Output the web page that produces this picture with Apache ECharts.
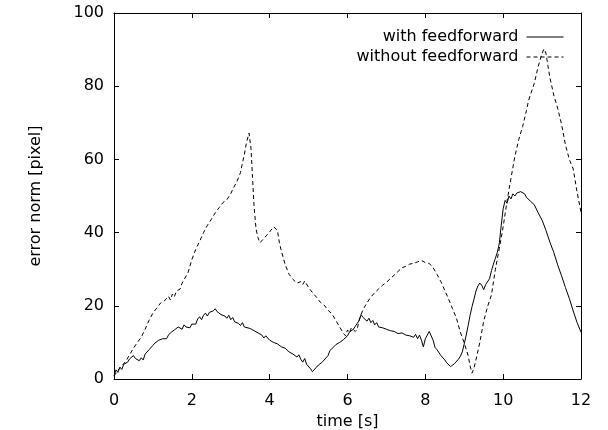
<!DOCTYPE html>
<html><head><meta charset="utf-8">
<script src="https://cdn.jsdelivr.net/npm/echarts@6/dist/echarts.min.js"></script>
<style>html,body{margin:0;padding:0;background:#fff}#c{width:608px;height:430px}</style>
</head><body><div id="c"></div>
<script>
// time [s], error norm [pixel]
const withFF = [
[0.00,0.8],[0.05,2.5],[0.10,1.8],[0.15,3.2],[0.20,2.6],[0.25,4.0],[0.30,3.5],[0.35,4.6],[0.40,5.5],[0.45,5.0],
[0.50,6.4],[0.55,5.6],[0.60,6.0],[0.65,5.0],[0.70,5.8],[0.75,5.2],[0.80,6.8],[0.85,7.1],[0.90,8.0],[0.95,8.4],
[1.00,9.2],[1.05,9.8],[1.10,10.2],[1.15,10.6],[1.20,10.2],[1.25,11.0],[1.30,11.4],[1.35,11.0],[1.40,12.0],[1.45,12.6],
[1.50,12.8],[1.55,13.4],[1.60,13.0],[1.65,14.2],[1.70,14.6],[1.75,13.6],[1.80,14.8],[1.85,14.2],[1.90,14.6],[1.95,14.0],
[2.00,15.0],[2.05,15.4],[2.10,15.0],[2.15,16.4],[2.20,17.0],[2.25,16.2],[2.30,17.4],[2.35,18.0],[2.40,17.2],[2.45,18.2],
[2.50,17.8],[2.55,18.6],[2.60,19.2],[2.65,18.4],[2.70,18.8],[2.75,17.6],[2.80,18.0],[2.85,17.2],[2.90,16.6],[2.95,17.4],
[3.00,16.2],[3.05,16.8],[3.10,15.6],[3.15,16.0],[3.20,15.2],[3.25,14.6],[3.30,15.4],[3.35,14.2],[3.40,14.6],[3.50,13.8],
[3.60,13.2],[3.70,12.6],[3.75,13.0],[3.80,12.0],[3.85,11.2],[3.90,11.8],[4.00,10.6],[4.10,10.0],[4.20,9.6],[4.25,9.8],
[4.30,8.8],[4.40,8.4],[4.50,7.4],[4.60,6.8],[4.70,6.0],[4.75,6.6],[4.80,5.4],[4.85,4.6],[4.90,5.6],[4.95,4.0],
[5.00,3.6],[5.05,2.8],[5.10,2.0],[5.15,2.4],[5.20,3.2],[5.25,3.8],[5.30,3.4],[5.35,4.6],[5.40,5.0],[5.45,5.8],
[5.50,6.4],[5.55,7.8],[5.60,8.2],[5.65,8.8],[5.70,9.4],[5.75,9.8],[5.80,10.0],[5.85,10.4],[5.90,10.8],[5.95,11.0],
[6.00,11.8],[6.05,12.8],[6.10,12.4],[6.15,13.6],[6.20,14.4],[6.25,15.2],[6.30,16.0],[6.35,17.6],[6.40,16.8],[6.45,17.2],
[6.50,15.8],[6.55,16.6],[6.60,15.4],[6.65,16.0],[6.70,14.8],[6.75,15.4],[6.80,14.2],[6.90,14.0],[7.00,13.6],[7.10,13.2],
[7.20,13.0],[7.30,12.4],[7.40,12.6],[7.50,12.0],[7.60,11.8],[7.70,11.4],[7.75,12.2],[7.80,11.0],[7.85,12.0],[7.90,10.6],
[7.95,8.8],[8.00,11.0],[8.05,12.0],[8.10,13.0],[8.15,12.6],[8.20,10.6],[8.25,8.6],[8.30,8.0],[8.40,6.4],[8.50,5.2],
[8.55,4.4],[8.60,4.0],[8.65,3.4],[8.70,3.6],[8.75,4.2],[8.80,4.4],[8.85,5.4],[8.90,6.2],[8.95,7.4],[9.00,9.6],
[9.05,12.0],[9.10,14.6],[9.15,17.4],[9.20,19.8],[9.25,21.8],[9.30,24.0],[9.35,25.4],[9.40,26.2],[9.45,25.6],[9.50,24.4],
[9.55,25.8],[9.60,26.2],[9.65,27.4],[9.70,29.6],[9.75,31.4],[9.80,33.0],[9.85,34.6],[9.90,37.0],[9.95,42.0],[10.00,46.5],
[10.05,48.8],[10.10,48.0],[10.15,50.0],[10.20,49.2],[10.25,50.6],[10.30,50.0],[10.35,50.8],[10.40,50.4],[10.45,51.2],[10.50,51.4],
[10.55,50.6],[10.60,49.6],[10.65,50.0],[10.70,48.6],[10.80,47.6],[10.90,45.4],[11.00,43.4],[11.10,40.6],[11.20,37.4],[11.30,34.6],
[11.40,31.2],[11.50,28.2],[11.60,25.0],[11.70,22.0],[11.80,18.6],[11.90,15.4],[12.00,12.8]
];
const withoutFF = [
[0.00,0.8],[0.10,2.4],[0.20,3.6],[0.30,4.8],[0.40,6.6],[0.50,8.4],[0.60,10.0],[0.70,11.4],[0.80,13.6],[0.90,16.0],
[1.00,18.0],[1.10,19.4],[1.20,20.8],[1.30,21.4],[1.40,22.6],[1.45,21.6],[1.50,23.2],[1.55,22.4],[1.60,24.0],[1.70,24.6],
[1.75,26.2],[1.80,26.6],[1.90,29.0],[2.00,32.6],[2.10,35.4],[2.20,37.6],[2.30,40.0],[2.40,42.0],[2.50,43.6],[2.60,45.4],
[2.70,46.8],[2.80,48.2],[2.90,49.0],[3.00,50.6],[3.05,51.8],[3.10,51.4],[3.15,53.8],[3.20,55.0],[3.25,56.4],[3.30,59.0],
[3.35,61.4],[3.40,64.4],[3.47,67.2],[3.52,63.0],[3.56,55.0],[3.60,47.0],[3.65,41.0],[3.70,38.6],[3.75,37.2],[3.80,37.6],
[3.85,38.4],[3.90,38.8],[4.00,40.2],[4.10,41.6],[4.15,42.0],[4.20,40.6],[4.25,37.2],[4.30,35.0],[4.40,31.2],[4.50,28.6],
[4.60,27.2],[4.70,26.2],[4.80,26.6],[4.85,25.8],[4.90,26.8],[5.00,25.0],[5.10,23.6],[5.20,22.4],[5.30,21.0],[5.40,20.2],
[5.50,18.8],[5.60,17.8],[5.70,16.0],[5.80,14.2],[5.90,12.4],[5.95,11.8],[6.00,13.4],[6.05,12.6],[6.10,14.0],[6.20,13.0],
[6.25,13.6],[6.30,16.2],[6.40,19.0],[6.50,20.8],[6.60,22.4],[6.70,23.6],[6.80,24.6],[6.90,25.6],[7.00,26.4],[7.10,27.4],
[7.20,28.4],[7.30,29.4],[7.40,30.4],[7.50,30.8],[7.60,31.4],[7.70,31.6],[7.80,32.0],[7.85,31.6],[7.90,32.4],[8.00,31.8],
[8.05,32.2],[8.10,31.6],[8.20,30.4],[8.30,28.6],[8.40,26.6],[8.50,24.2],[8.60,21.8],[8.70,19.2],[8.80,16.6],[8.90,12.8],
[9.00,9.8],[9.10,6.4],[9.15,3.6],[9.20,1.6],[9.25,3.0],[9.30,5.2],[9.40,10.0],[9.50,15.8],[9.60,19.8],[9.70,23.0],
[9.80,30.0],[9.90,35.6],[10.00,41.6],[10.10,48.6],[10.20,54.8],[10.30,60.8],[10.40,65.4],[10.50,69.0],[10.60,73.4],[10.65,76.0],
[10.70,77.6],[10.80,80.8],[10.90,85.4],[11.00,89.0],[11.05,90.2],[11.10,89.0],[11.15,85.6],[11.20,82.4],[11.30,77.6],[11.40,74.0],
[11.50,69.6],[11.60,64.0],[11.70,60.0],[11.80,57.4],[11.90,51.0],[12.00,45.6]
];
const seriesNames = ['with feedforward', 'without feedforward'];
const xTicks = [0, 2, 4, 6, 8, 10, 12];
const yTicks = [0, 20, 40, 60, 80, 100];

const FONT = 'DejaVu Sans';
const FS = 16;
const chart = echarts.init(document.getElementById('c'), null, {renderer: 'canvas'});
const axisCommon = {
  type: 'value',
  axisLine: {show: true, onZero: false, lineStyle: {color: '#000', width: 1}},
  axisTick: {show: true, inside: true, length: 5, lineStyle: {color: '#000'}},
  splitLine: {show: false}
};
chart.setOption({
  animation: false,
  backgroundColor: '#fff',
  textStyle: {fontFamily: FONT},
  grid: {left: 114, right: 27, top: 13, bottom: 51, containLabel: false, outerBoundsMode: 'none'},
  legend: {
    orient: 'vertical', right: 44, top: 29, align: 'right',
    itemWidth: 37, itemHeight: 14, itemGap: 4, padding: 0,
    itemStyle: {opacity: 0},
    lineStyle: {width: 1},
    textStyle: {fontFamily: FONT, fontSize: FS, color: '#000', padding: [0, 3, 0, 0]},
    data: [seriesNames[0], seriesNames[1]]
  },
  xAxis: [
    Object.assign({}, axisCommon, {position: 'bottom', min: xTicks[0], max: xTicks[xTicks.length-1], interval: 2,
      name: 'time [s]', nameLocation: 'middle', nameGap: 28,
      nameTextStyle: {fontFamily: FONT, fontSize: FS, color: '#000'},
      axisLabel: {fontFamily: FONT, fontSize: FS, color: '#000', margin: 14}}),
    Object.assign({}, axisCommon, {position: 'top', min: xTicks[0], max: xTicks[xTicks.length-1], interval: 2,
      axisLabel: {show: false}})
  ],
  yAxis: [
    Object.assign({}, axisCommon, {position: 'left', min: yTicks[0], max: yTicks[yTicks.length-1], interval: 20,
      name: 'error norm [pixel]', nameLocation: 'middle', nameGap: 70, nameRotate: 90,
      nameTextStyle: {fontFamily: FONT, fontSize: FS, color: '#000'},
      axisLabel: {fontFamily: FONT, fontSize: FS, color: '#000', margin: 10}}),
    Object.assign({}, axisCommon, {position: 'right', min: yTicks[0], max: yTicks[yTicks.length-1], interval: 20,
      axisLabel: {show: false}})
  ],
  series: [
    {name: seriesNames[0], type: 'line', data: withFF, showSymbol: false, symbol: 'none',
     lineStyle: {color: '#000', width: 1, type: 'solid'}, itemStyle: {color: '#000'}},
    {name: seriesNames[1], type: 'line', data: withoutFF, showSymbol: false, symbol: 'none',
     lineStyle: {color: '#000', width: 1, type: [4, 3]}, itemStyle: {color: '#000'}}
  ]
});
</script></body></html>
